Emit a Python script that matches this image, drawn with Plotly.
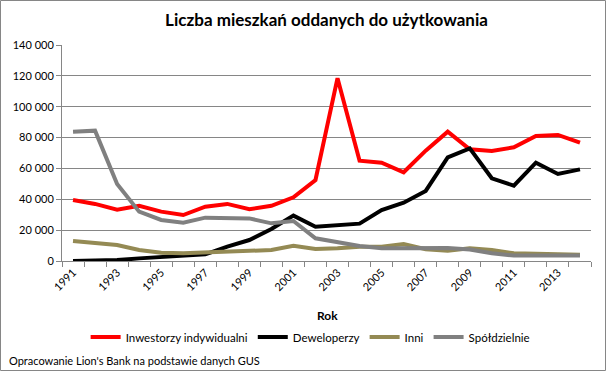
import plotly.graph_objects as go

years = list(range(1991, 2015))
inwestorzy = [39500, 37000, 33300, 35800, 32000, 29800, 35200, 37000, 33500, 35800, 41300, 52500,
              118500, 65000, 63700, 57500, 71500, 83800, 72400, 71300, 73700, 81000, 81700, 76700]
deweloperzy = [0, 200, 600, 1700, 2600, 2900, 4300, 9300, 13600, 20700, 29400, 22200,
               23300, 24200, 33000, 37800, 45400, 67200, 73000, 53600, 48800, 63700, 56400, 59400]
inni = [13000, 11500, 10400, 7100, 5400, 5000, 5600, 6300, 6500, 7100, 9900, 7800,
        8200, 9300, 9300, 11000, 7600, 6700, 8200, 7100, 5000, 4500, 4000, 4000]
spoldzielnie = [83800, 84500, 49900, 32000, 26600, 24800, 28100, 28100, 27600, 24400, 25900, 14700,
                11900, 9700, 8200, 8200, 8500, 8500, 7500, 5000, 3500, 3700, 3500, 3500]

series_names = ["Inwestorzy indywidualni", "Deweloperzy", "Inni", "Spółdzielnie"]
series_values = [inwestorzy, deweloperzy, inni, spoldzielnie]
series_colors = ["#FF0000", "#000000", "#948A54", "#808080"]

y_ticks = [0, 20000, 40000, 60000, 80000, 100000, 120000, 140000]
y_labels = ["0", "20 000", "40 000", "60 000", "80 000", "100 000", "120 000", "140 000"]
x_label_years = list(range(1991, 2015, 2))

FONT = "Lato, Open Sans, sans-serif"

fig = go.Figure()
for name, vals, col in zip(series_names, series_values, series_colors):
    fig.add_trace(go.Scatter(x=years, y=vals, name=name, mode="lines",
                             line=dict(color=col, width=4)))

W, H = 606, 371
L, R, T, B = 62, 15, 45, 110
pw, ph = W - L - R, H - T - B

fig.update_layout(
    width=W, height=H,
    margin=dict(l=L, r=R, t=T, b=B),
    paper_bgcolor="white", plot_bgcolor="white",
    font=dict(family=FONT, size=11, color="#000000"),
    title=dict(text="<b>Liczba mieszkań oddanych do użytkowania</b>",
               x=0.5, xref="paper", xanchor="center", y=1 - 20 / H, yanchor="middle",
               font=dict(size=17, family=FONT, color="#000000")),
    xaxis=dict(range=[1990.5, 2014.5], tickvals=x_label_years,
               ticktext=[str(y) for y in x_label_years], tickangle=-45,
               ticks="", showgrid=False, zeroline=False,
               showline=True, linecolor="#868686", linewidth=1,
               minor=dict(ticks="outside", tick0=1990.5, dtick=1, ticklen=5,
                          tickcolor="#868686", showgrid=False),
               tickfont=dict(size=11, family=FONT)),
    yaxis=dict(range=[0, 140000], tickvals=y_ticks, ticktext=y_labels,
               ticks="outside", ticklen=5, tickcolor="#868686",
               showgrid=True, gridcolor="#868686", gridwidth=1, zeroline=False,
               showline=True, linecolor="#868686", linewidth=1,
               tickfont=dict(size=11, family=FONT)),
    showlegend=True,
    legend=dict(orientation="h", x=0.47, xanchor="center",
                y=(T + ph - 337) / ph, yanchor="middle",
                font=dict(size=11.5, family=FONT), itemwidth=30,
                bgcolor="rgba(0,0,0,0)"),
)

fig.add_annotation(text="<b>Rok</b>", xref="paper", yref="paper",
                   x=(327 - L) / pw, y=(T + ph - 315) / ph,
                   showarrow=False, font=dict(size=12, family=FONT), xanchor="center", yanchor="middle")
fig.add_annotation(text="Opracowanie Lion's Bank na podstawie danych GUS", xref="paper", yref="paper",
                   x=(7 - L) / pw, y=(T + ph - 360) / ph,
                   showarrow=False, font=dict(size=11, family=FONT), xanchor="left", yanchor="middle")

fig.add_shape(type="rect", xref="paper", yref="paper",
              x0=(0.5 - L) / pw, x1=(W - 0.5 - L) / pw,
              y0=(T + ph - (H - 0.5)) / ph, y1=(T + ph - 0.5) / ph,
              line=dict(color="#868686", width=1), fillcolor="rgba(0,0,0,0)", layer="above")

fig.write_html("out.html", config={"displayModeBar": False},
               post_script="document.body.style.margin='0';document.body.style.overflow='hidden';")
